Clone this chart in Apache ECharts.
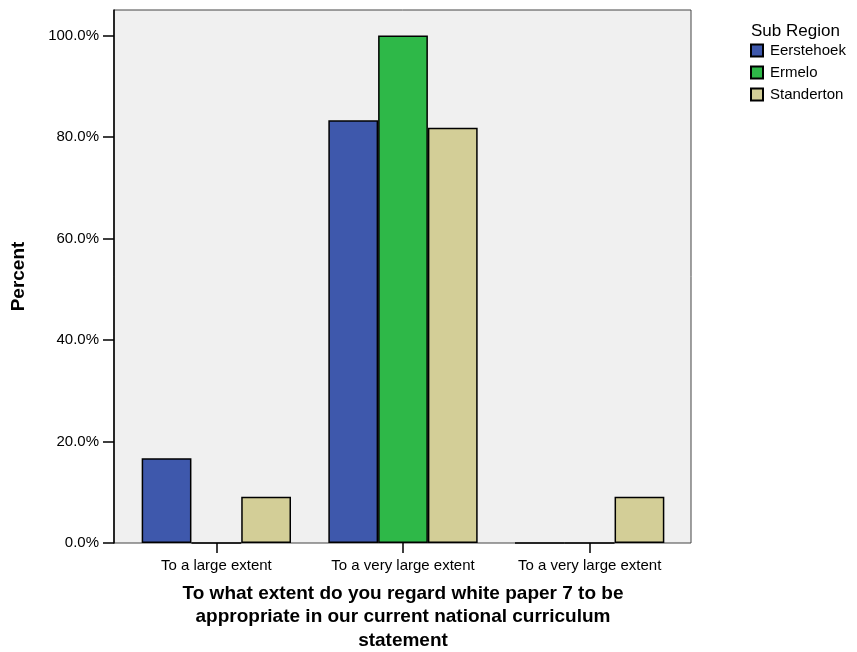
<!DOCTYPE html>
<html>
<head>
<meta charset="utf-8">
<script src="https://cdn.jsdelivr.net/npm/echarts@6/dist/echarts.min.js"></script>
<style>
  html, body { margin: 0; padding: 0; background: #fff; }
  #chart { width: 857px; height: 652px; }
</style>
</head>
<body>
<div id="chart"></div>
<script>
// categories on the x axis (third one repeats the second, as in the source)
var categories = ['To a large extent', 'To a very large extent', 'To a very large extent'];
var regions = ['Eerstehoek', 'Ermelo', 'Standerton'];
var eerstehoek = [16.7, 83.3, 0];
var ermelo = [0, 100, 0];
var standerton = [9.1, 81.8, 9.1];
var yTicks = [0, 20, 40, 60, 80, 100];
var colors = ['#3e58ac', '#2eb848', '#d3ce97'];

var font = 'Arial, "Liberation Sans", sans-serif';
var chart = echarts.init(document.getElementById('chart'));

var seriesData = [eerstehoek, ermelo, standerton];
var series = [];
regions.forEach(function (name, i) {
  series.push({
    name: name,
    type: 'bar',
    data: seriesData[i],
    barGap: '0%',
    barCategoryGap: '20%',
    itemStyle: {
      color: colors[i],
      borderColor: '#000',
      borderWidth: 1.5
    }
  });
});

chart.setOption({
  animation: false,
  textStyle: { fontFamily: font },
  title: {
    text: 'Sub Region',
    left: 746,
    top: 18,
    textStyle: { fontFamily: font, fontSize: 17, fontWeight: 'normal', color: '#000' }
  },
  legend: {
    orient: 'vertical',
    left: 750,
    top: 43,
    padding: 0,
    itemWidth: 12,
    itemHeight: 12,
    itemGap: 7,
    icon: 'rect',
    textStyle: { fontFamily: font, fontSize: 15, color: '#000', padding: [0, 0, 0, 2] },
    data: regions
  },
  // plot frame (slightly wider than the category band)
  graphic: [{
    type: 'rect',
    z: -1,
    shape: { x: 114, y: 10, width: 577, height: 533 },
    style: { fill: '#f0f0f0', stroke: '#444', lineWidth: 1 }
  }],
  grid: {
    left: 123,
    right: 174,
    top: 10,
    bottom: 109,
    outerBoundsMode: 'none',
    containLabel: false
  },
  xAxis: {
    type: 'category',
    data: categories,
    name: 'To what extent do you regard white paper 7 to be\nappropriate in our current national curriculum\nstatement',
    nameLocation: 'middle',
    nameGap: 39,
    nameTextStyle: { fontFamily: font, fontSize: 19, fontWeight: 'bold', color: '#000', lineHeight: 23.5, verticalAlign: 'top' },
    axisLine: { show: false },
    axisTick: { show: true, alignWithLabel: true, length: 10, lineStyle: { color: '#000', width: 1.5 } },
    axisLabel: { fontFamily: font, fontSize: 15, color: '#000', margin: 15 },
    splitLine: { show: false }
  },
  yAxis: {
    type: 'value',
    min: 0,
    max: 105,
    interval: 20,
    offset: 9,
    name: 'Percent',
    nameLocation: 'middle',
    nameGap: 86,
    nameTextStyle: { fontFamily: font, fontSize: 19, fontWeight: 'bold', color: '#000' },
    axisLine: { show: true, lineStyle: { color: '#000', width: 1.5 } },
    axisTick: { show: true, length: 11, customValues: yTicks, lineStyle: { color: '#000', width: 1.5 } },
    axisLabel: {
      fontFamily: font, fontSize: 15, color: '#000', margin: 15,
      customValues: yTicks,
      formatter: function (v) { return v.toFixed(1) + '%'; }
    },
    splitLine: { show: false }
  },
  series: series
});
</script>
</body>
</html>
